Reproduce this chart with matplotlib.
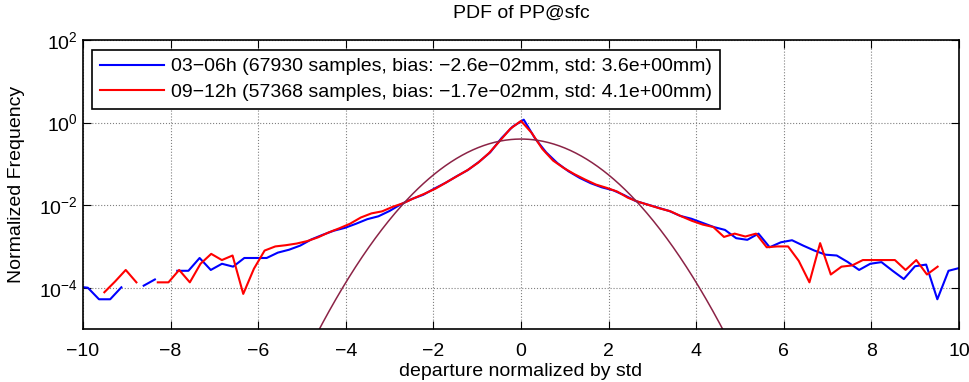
import numpy as np
import matplotlib
matplotlib.use('Agg')
import matplotlib.pyplot as plt

plt.rcParams['font.family'] = ['Liberation Sans', 'DejaVu Sans']
plt.rcParams['mathtext.fontset'] = 'custom'
plt.rcParams['mathtext.rm'] = 'Liberation Sans'
plt.rcParams['mathtext.default'] = 'regular'

# bin centres (departure / std) of each run
blue_x0, blue_dx, blue_n = -10.145, 0.2552, 80
red_x0, red_dx, red_n = -39 / 4.1, 1 / 4.1, 79

# log10 of the normalized frequency (nan = empty bin)
blue_log10 = [-3.97, -4.0, -4.28, -4.28, -3.99, np.nan, -3.95, -3.8, np.nan, -3.59,
              -3.59, -3.28, -3.57, -3.42, -3.49, -3.28, -3.28, -3.28, -3.15, -3.08,
              -2.98, -2.83, -2.72, -2.62, -2.55, -2.45, -2.34, -2.27, -2.14, -1.98,
              -1.85, -1.75, -1.6, -1.46, -1.3, -1.15, -0.95, -0.72, -0.38, -0.1,
              0.07, -0.38, -0.72, -0.98, -1.18, -1.34, -1.47, -1.57, -1.64, -1.76,
              -1.9, -1.98, -2.06, -2.14, -2.26, -2.33, -2.43, -2.53, -2.6, -2.8,
              -2.84, -2.69, -3.02, -2.9, -2.85, -2.98, -3.1, -3.2, -3.22, -3.38,
              -3.57, -3.42, -3.38, -3.59, -3.79, -3.48, -3.44, -4.28, -3.59, -3.52]

red_log10 = [-4.11, -3.85, -3.57, -3.87, np.nan, -3.87, -3.87, -3.57, -3.87, -3.42,
             -3.18, -3.33, -3.22, -4.15, -3.54, -3.1, -3.0, -2.97, -2.93, -2.87,
             -2.78, -2.66, -2.56, -2.45, -2.3, -2.2, -2.15, -2.04, -1.95, -1.83,
             -1.72, -1.6, -1.45, -1.3, -1.15, -0.97, -0.74, -0.45, -0.15, 0.04,
             -0.25, -0.64, -0.92, -1.1, -1.25, -1.38, -1.5, -1.58, -1.67, -1.82,
             -1.92, -2.0, -2.08, -2.15, -2.27, -2.38, -2.47, -2.53, -2.77, -2.69,
             -2.76, -2.69, -3.02, -3.0, -3.0, -3.35, -3.87, -2.92, -3.68, -3.49,
             -3.46, -3.33, -3.33, -3.33, -3.33, -3.57, -3.33, -3.68, -3.49]

labels = ['03\u221206h (67930 samples, bias: \u22122.6e\u221202mm, std: 3.6e+00mm)',
          '09\u221212h (57368 samples, bias: \u22121.7e\u221202mm, std: 4.1e+00mm)']

# reference normal distribution
gauss_mean, gauss_std = 0.0, 1.0

blue_x = blue_x0 + blue_dx * np.arange(blue_n)
red_x = red_x0 + red_dx * np.arange(red_n)
gx = np.linspace(-10, 10, 801)
gy = np.exp(-0.5 * ((gx - gauss_mean) / gauss_std) ** 2) / (gauss_std * np.sqrt(2 * np.pi))

fs = 14
fig = plt.figure(figsize=(9.69, 3.82), dpi=100)
ax = fig.add_axes([83 / 969, 1 - 329 / 382, 876 / 969, 289 / 382])

ax.plot(blue_x, 10 ** np.array(blue_log10), color='#0000ff', lw=1.5, label=labels[0])
ax.plot(red_x, 10 ** np.array(red_log10), color='#ff0000', lw=1.5, label=labels[1])
ax.plot(gx, gy, color='#8b2346', lw=1.1)

ax.set_yscale('log')
ax.set_xlim(-10, 10)
ax.set_ylim(1e-5, 1e2)
ax.set_xticks(np.arange(-10, 11, 2))
ax.set_yticks([1e-4, 1e-2, 1e0, 1e2])
ax.yaxis.set_minor_locator(matplotlib.ticker.NullLocator())
ax.tick_params(direction='in', top=True, right=True, length=6, width=0.8, labelsize=fs)
ax.tick_params(axis='x', pad=10)
ax.grid(True, linestyle=':', color='0.5', lw=0.8)
for s in ax.spines.values():
    s.set_linewidth(1.2)

ax.set_title('PDF of PP@sfc', fontsize=fs, pad=16)
ax.set_xlabel('departure normalized by std', fontsize=fs, labelpad=2)
ax.set_ylabel('Normalized Frequency', fontsize=fs, labelpad=10)

leg = ax.legend(loc='upper left', bbox_to_anchor=(9 / 876, 1 - 10 / 289), borderaxespad=0,
                fontsize=fs, handlelength=3.3, handletextpad=0.36, labelspacing=0.4,
                borderpad=0.4, fancybox=False, framealpha=1)
leg.get_frame().set_edgecolor('black')
leg.get_frame().set_linewidth(1.2)

fig.savefig('out.png', dpi=100)
